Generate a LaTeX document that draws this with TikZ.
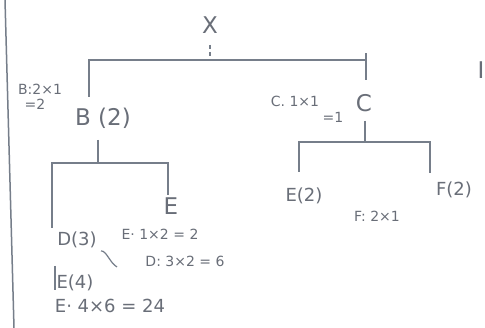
\documentclass[tikz,border=0pt]{standalone}
\usepackage{fontspec}
\setmainfont{DejaVu Sans}
\definecolor{inkgray}{RGB}{118, 126, 138}
\definecolor{textgray}{RGB}{105, 110, 120}
\usetikzlibrary{positioning}

\begin{document}
\begin{tikzpicture}[x=1pt, y=-1pt,
  branch/.style={draw=inkgray, line width=1.5pt},
  big/.style={text=textgray, inner sep=1pt, font=\fontsize{23}{26}\selectfont},
  mid/.style={text=textgray, inner sep=1pt, font=\fontsize{18}{21}\selectfont},
  note/.style={text=textgray, inner sep=1pt, font=\fontsize{14}{16}\selectfont}]
  \useasboundingbox (0,0) rectangle (485,328);
  \fill[white] (0,0) rectangle (485,328);

  % margin line
  \draw[inkgray, line width=1.5pt] (5,0) -- (14,328);

  % root
  \node[big] (x) at (210,25) {X};
  \draw[inkgray, line width=1.2pt, dash pattern=on 4pt off 3pt] (210,45) -- (210,56);

  % first level
  \node[big] (b) at (103,118) {B (2)};
  \node[big] (c) at (364,103) {C};
  \coordinate (bUp) at (89,97);
  \coordinate (cUp) at (366,80);
  \coordinate (bar1l) at (89,60);
  \coordinate (bar1r) at (366,60);
  \draw[branch] (bUp) -- (bar1l) -- (bar1r) -- (cUp);
  \draw[branch] (bar1r) -- ++(0,-7);
  \node[note] (bnote) at (40,89) {B:2×1};
  \node[note] (bnote2) at (35,104) {=2};
  \node[note] (cnote) at (295,101) {C. 1×1};
  \node[note] (cnote2) at (333,117) {=1};

  % under B
  \coordinate (bDown) at (98,140);
  \coordinate (bar2) at (98,163);
  \coordinate (bar2l) at (52,163);
  \coordinate (bar2r) at (168,163);
  \coordinate (dUp) at (52,228);
  \coordinate (eUp) at (168,195);
  \draw[branch] (bDown) -- (bar2);
  \draw[branch] (dUp) -- (bar2l) -- (bar2r) -- (eUp);
  \node[big] (e1) at (171,206) {E};
  \node[mid] (d) at (77,240) {D(3)};
  \node[note] (e1note) at (160,234) {E· 1×2 = 2};
  \node[note] (dnote) at (185,261) {D: 3×2 = 6};
  \draw[inkgray, line width=1.2pt] (101,251) .. controls (106,250) and (110,263) .. (117,267);
  \draw[branch] (55,266) -- (55,290);
  \node[mid] (e4) at (75,283) {E(4)};
  \node[mid] (e4note) at (110,306) {E· 4×6 = 24};

  % under C
  \coordinate (cDown) at (365,121);
  \coordinate (bar3) at (365,142);
  \coordinate (bar3l) at (299,142);
  \coordinate (bar3r) at (430,142);
  \draw[branch] (cDown) -- (bar3);
  \draw[branch] (299,172) -- (bar3l) -- (bar3r) -- (430,173);
  \node[mid] (e2) at (304,196) {E(2)};
  \node[mid] (f2) at (454,190) {F(2)};
  \node[note] (fnote) at (377,216) {F: 2×1};

  % cut-off mark at the right edge
  \node[big] (edge) at (481,70) {I};
\end{tikzpicture}
\end{document}
